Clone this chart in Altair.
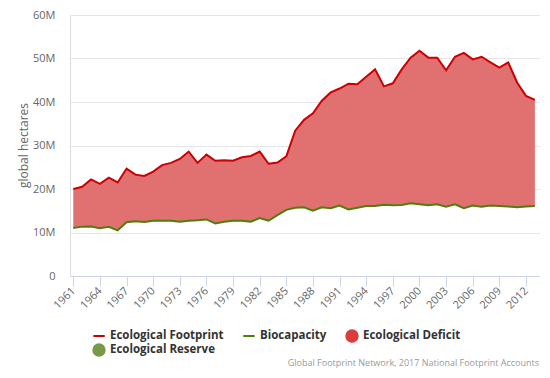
import altair as alt
import pandas as pd

years = list(range(1961, 2014))
footprint = [20.0, 20.5, 22.2, 21.2, 22.6, 21.5, 24.7, 23.3, 23.0, 24.0,
             25.5, 26.0, 26.9, 28.6, 26.0, 27.9, 26.5, 26.6, 26.5, 27.3,
             27.6, 28.6, 25.8, 26.1, 27.5, 33.4, 35.9, 37.4, 40.3, 42.2,
             43.1, 44.2, 44.1, 45.8, 47.5, 43.6, 44.3, 47.5, 50.2, 51.8,
             50.2, 50.2, 47.3, 50.4, 51.3, 49.8, 50.4, 49.1, 47.9, 49.1,
             44.5, 41.4, 40.5]
biocapacity = [11.05, 11.35, 11.4, 11.0, 11.3, 10.5, 12.35, 12.6, 12.4, 12.7,
               12.7, 12.7, 12.5, 12.7, 12.8, 13.0, 12.1, 12.45, 12.7, 12.7,
               12.5, 13.3, 12.7, 14.0, 15.2, 15.7, 15.8, 15.0, 15.8, 15.6,
               16.2, 15.3, 15.7, 16.1, 16.1, 16.4, 16.25, 16.3, 16.7, 16.5,
               16.25, 16.5, 15.95, 16.5, 15.6, 16.2, 15.9, 16.2, 16.1, 16.0,
               15.8, 16.0, 16.1]
series_names = ["Ecological Footprint", "Biocapacity", "Ecological Deficit", "Ecological Reserve"]
series_colors = ["#cc0000", "#4e7e0e", "#dd3c3c", "#789a48"]
series_shapes = ["stroke", "stroke", "circle", "circle"]
x_ticks = list(range(1961, 2013, 3))
y_ticks = [0, 10, 20, 30, 40, 50, 60]
credit_text = "Global Footprint Network, 2017 National Footprint Accounts"

FONT = "Open Sans"

wide = pd.DataFrame({"year": years, "ef": footprint, "bc": biocapacity})
long = pd.concat([
    pd.DataFrame({"year": years, "series": "Ecological Footprint", "value": footprint}),
    pd.DataFrame({"year": years, "series": "Biocapacity", "value": biocapacity}),
])
dummy = pd.DataFrame({"series": series_names})

xscale = alt.Scale(domain=[1960.63, 2013.58], nice=False, zero=False)
yscale = alt.Scale(domain=[0, 60], nice=False)

xaxis = alt.Axis(values=x_ticks, format="d", labelAngle=-45, labelAlign="right",
                 labelBaseline="middle", labelPadding=3, tickSize=10, labelOverlap=False,
                 labelBound=False, labelFlush=False,
                 tickColor="#ccd6eb", domainColor="#ccd6eb", grid=False,
                 labelColor="#666666", labelFontSize=11, labelFont=FONT, title=None)
yaxis = alt.Axis(values=y_ticks, labelExpr="datum.value == 0 ? '0' : datum.value + 'M'",
                 grid=True, gridColor="#e6e6e6", domain=False, ticks=False,
                 labelPadding=15, labelColor="#666666", labelFontSize=11, labelFont=FONT,
                 title="global hectares", titleColor="#666666", titleFontSize=12,
                 titleFontWeight="normal", titleFont=FONT, titleX=-40, titleY=130)

cscale = alt.Scale(domain=series_names, range=series_colors)
sscale = alt.Scale(domain=series_names, range=series_shapes)

legend = alt.Legend(
    title=None, orient="none", legendX=22, legendY=314, direction="horizontal",
    columns=3, columnPadding=15, rowPadding=-6, gridAlign="none",
    labelFont=FONT, labelFontSize=11.5,
    labelFontWeight="bold", labelColor="#333333", labelOffset=4, symbolSize=130,
    symbolStrokeWidth=2, symbolOpacity=1, padding=0,
)

X = alt.X("year:Q", scale=xscale, axis=xaxis)

area = alt.Chart(wide).mark_area(color="#e17070", opacity=1).encode(
    x=X,
    y=alt.Y("bc:Q", scale=yscale, axis=yaxis),
    y2="ef:Q",
)

lines = alt.Chart(long).mark_line(strokeWidth=2).encode(
    x=X,
    y=alt.Y("value:Q", scale=yscale, axis=yaxis),
    stroke=alt.Stroke("series:N", scale=cscale, legend=legend),
    detail="series:N",
)

pts = alt.Chart(dummy).mark_point(filled=True, opacity=1, strokeWidth=2).encode(
    x=X,
    y=alt.Y("value:Q", scale=yscale, axis=yaxis),
    fill=alt.Fill("series:N", scale=cscale, legend=legend),
    stroke=alt.Stroke("series:N", scale=cscale, legend=legend),
    shape=alt.Shape("series:N", scale=sscale, legend=legend),
)

credits = alt.Chart(pd.DataFrame({"t": [credit_text]})).mark_text(
    align="right", baseline="alphabetic", fontSize=9, color="#999999", font=FONT
).encode(text="t:N", x=alt.value(469), y=alt.value(351))

chart = alt.layer(area, lines, pts, credits).properties(
    width=470, height=261,
    autosize=alt.AutoSizeParams(type="none"),
    padding={"left": 62, "top": 7, "right": 0, "bottom": 92},
).configure_view(stroke=None).configure(background="white").configure_axisX(labelOverlap=False)

chart.save("out.html", embed_options={"renderer": "svg", "actions": False})
